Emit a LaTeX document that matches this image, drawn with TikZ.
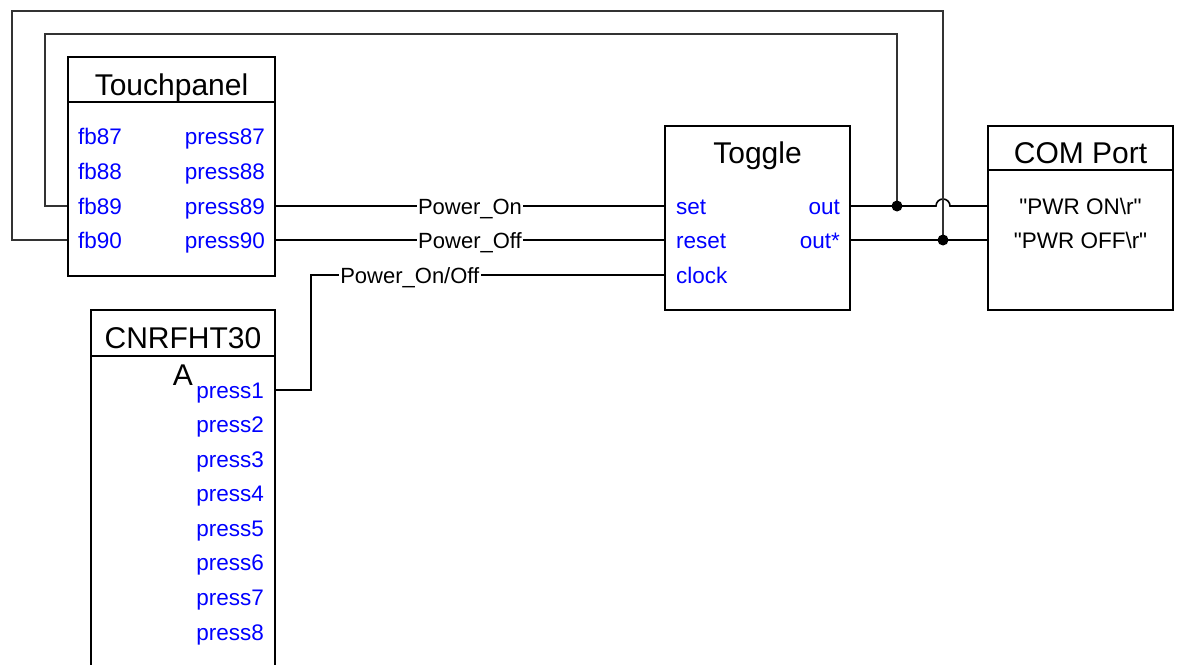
\documentclass[tikz,border=0pt]{standalone}
\usepackage{fontspec}
\setmainfont{Liberation Sans}
\usetikzlibrary{positioning}
\definecolor{pinblue}{RGB}{0,0,255}

\begin{document}
\begin{tikzpicture}[
    x=1pt, y=-1pt,
    blk/.style={
        draw,
        line width=1.8pt,
        inner sep=0pt
    },
    ttl/.style={
        font=\fontsize{30}{36}\selectfont,
        inner sep=0pt,
        anchor=base
    },
    pin/.style={
        font=\fontsize{22.5}{27}\selectfont,
        text=pinblue,
        inner sep=0pt,
        text height=16pt,
        text depth=0pt
    },
    cmd/.style={
        font=\fontsize{22.5}{27}\selectfont,
        inner sep=0pt,
        text height=16pt,
        text depth=0pt
    },
    sig/.style={
        font=\fontsize{22}{26}\selectfont,
        fill=white,
        inner sep=1.5pt,
        text height=16pt,
        text depth=0pt
    },
    wire/.style={line width=1.6pt},
    fbloop/.style={line width=1.2pt, black!80},
    dot/.style={circle, fill=black, inner sep=0pt, minimum size=11pt}
]
    \useasboundingbox (0,0) rectangle (1177,664);

    % Touchpanel
    \node[blk, minimum width=207, minimum height=219] (tp) at (171.5,166.5) {};
    \draw[blk] ([yshift=-45.5pt]tp.north west) -- ([yshift=-45.5pt]tp.north east);
    \node[ttl] (tpttl) at (171.5,95) {Touchpanel};
    \foreach \n/\y in {87/136,88/171,89/206,90/240} {
        \node[pin, anchor=west] (fb\n) at (78,\y) {fb\n};
        \node[pin, anchor=east] (pr\n) at (265,\y) {press\n};
    }

    % CNRFHT30
    \node[blk, minimum width=184, minimum height=380] (cn) at (183,500) {};
    \draw[blk] ([yshift=-46.5pt]cn.north west) -- ([yshift=-46.5pt]cn.north east);
    \node[ttl] (cnttl) at (183,348) {CNRFHT30};
    \node[ttl] (cnttlb) at (183,385) {A};
    \foreach \n in {1,...,8} {
        \node[pin, anchor=east] (p\n) at (264,{390+34.57*(\n-1)}) {press\n};
    }

    % Toggle
    \node[blk, minimum width=185, minimum height=184] (tog) at (757.5,218) {};
    \node[ttl] (togttl) at (757.5,163) {Toggle};
    \node[pin, anchor=west] (set) at (676,206) {set};
    \node[pin, anchor=west] (rst) at (676,240) {reset};
    \node[pin, anchor=west] (clk) at (676,275) {clock};
    \node[pin, anchor=east] (out) at (840,206) {out};
    \node[pin, anchor=east] (outb) at (840,240) {out*};

    % COM Port
    \node[blk, minimum width=185, minimum height=184] (com) at (1080.5,218) {};
    \draw[blk] ([yshift=-45pt]com.north west) -- ([yshift=-45pt]com.north east);
    \node[ttl] (comttl) at (1080.5,163) {COM Port};
    \node[cmd] (pwron) at (1080.5,206) {\textquotedbl PWR ON\textbackslash r\textquotedbl};
    \node[cmd] (pwroff) at (1080.5,240) {\textquotedbl PWR OFF\textbackslash r\textquotedbl};

    % junctions
    \coordinate (jA) at (897,206);
    \coordinate (jB) at (943,240);
    \coordinate (hop) at (943,206);

    % wires
    \draw[wire] (tp.east |- pr89.east) -- node[sig] {Power\_On} (tog.west |- set.west);
    \draw[wire] (tp.east |- pr90.east) -- node[sig] {Power\_Off} (tog.west |- rst.west);
    \draw[wire] (cn.east |- p1.east) -- ++(35,0) |- node[sig, pos=0.64] {Power\_On/Off} (tog.west |- clk.west);
    \draw[wire] (tog.east |- out.east) -- ([xshift=-7pt]hop)
        arc[start angle=180, end angle=0, radius=7pt] -- (com.west |- pwron.west);
    \draw[wire] (tog.east |- outb.east) -- (com.west |- pwroff.west);

    % feedback loops
    \draw[fbloop] (tp.west |- fb89.west) -| (45,34) -| (jA);
    \draw[fbloop] (tp.west |- fb90.west) -| (12,11) -| (jB);
    \node[dot] (dA) at (jA) {};
    \node[dot] (dB) at (jB) {};

\end{tikzpicture}
\end{document}
